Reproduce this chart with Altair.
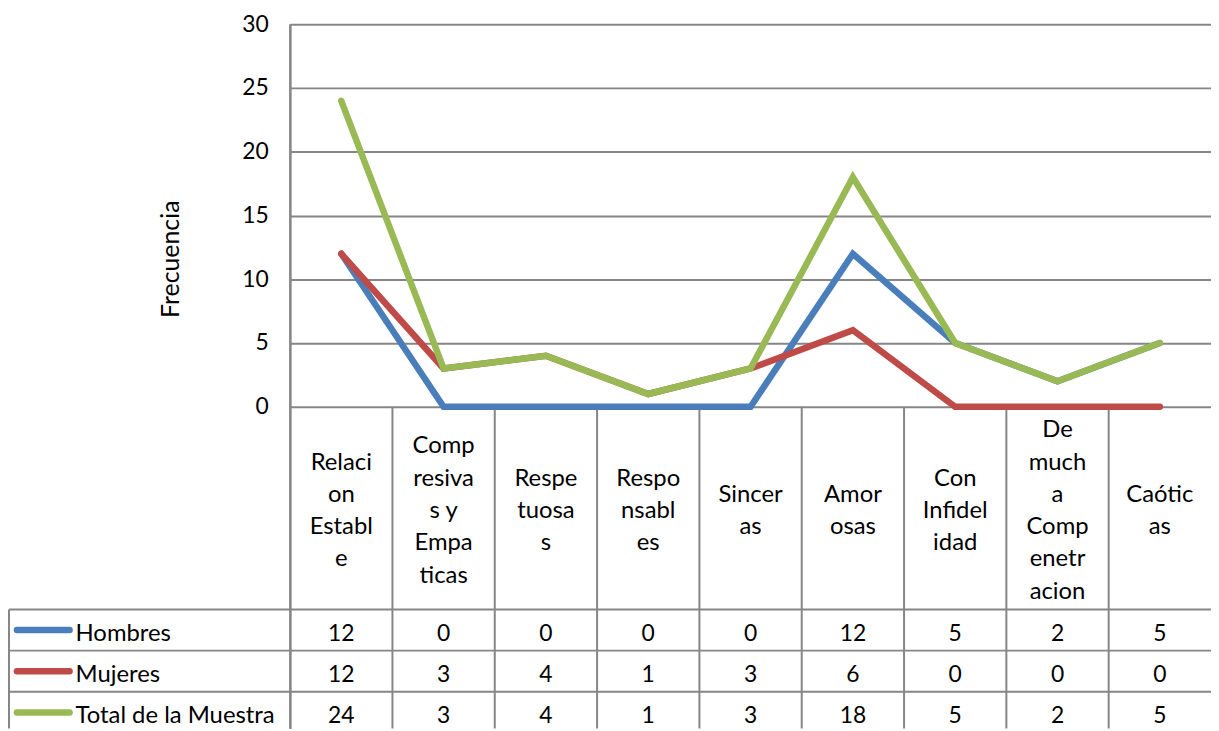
import altair as alt
import pandas as pd

# ---------------- data ----------------
categories = ["Relacion Estable", "Compresivas y Empaticas", "Respetuosas",
              "Responsables", "Sinceras", "Amorosas", "Con Infidelidad",
              "De mucha Compenetracion", "Caóticas"]
category_labels = ["Relaci\non\nEstabl\ne", "Comp\nresiva\ns y\nEmpa\nticas",
                   "Respe\ntuosa\ns", "Respo\nnsabl\nes", "Sincer\nas",
                   "Amor\nosas", "Con\nInfidel\nidad",
                   "De\nmuch\na\nComp\nenetr\nacion", "Caótic\nas"]
series_names = ["Hombres", "Mujeres", "Total de la Muestra"]
hombres = [12, 0, 0, 0, 0, 12, 5, 2, 5]
mujeres = [12, 3, 4, 1, 3, 6, 0, 0, 0]
total = [24, 3, 4, 1, 3, 18, 5, 2, 5]
y_ticks = [0, 5, 10, 15, 20, 25, 30]
series_values = [hombres, mujeres, total]
colors = ["#4A7EBB", "#BE4B48", "#98B954"]

# ---------------- layout ----------------
FONT = "Lato"
GRID = "#868686"
PLOT_W = 927
PLOT_H = 709
N = len(categories)
CAT_W = PLOT_W / N
Y_MAX = 30
AXIS_H = 385
PXU = AXIS_H / Y_MAX
Y_MIN = Y_MAX - PLOT_H / PXU
LABEL_H = 204 / PXU
ROW_H = 41.5 / PXU
LINE_H = 32.5


def xu(px):
    return px / CAT_W


LEG_X0 = xu(-283)
LEG_L0 = xu(-275)
LEG_L1 = xu(-222)
LEG_T = xu(-216)

row_bounds = [-LABEL_H - r * ROW_H for r in range(3)]
row_centers = [b - ROW_H / 2 for b in row_bounds]

xs = alt.Scale(domain=[0, N], nice=False, zero=False)
ys = alt.Scale(domain=[Y_MIN, Y_MAX], nice=False, zero=False)

yaxis = alt.Axis(values=y_ticks, title="Frecuencia",
                 grid=True, gridColor=GRID, gridWidth=2,
                 domain=True, domainColor=GRID, domainWidth=2,
                 ticks=False, labelFont=FONT, labelFontSize=23,
                 labelColor="#000", labelPadding=22,
                 titleFont=FONT, titleFontSize=25,
                 titleFontWeight="normal", titleColor="#000",
                 titleAngle=270, titleX=-120, titleY=236,
                 titleAlign="center", titleBaseline="middle")

X = lambda f: alt.X(f, scale=xs, axis=None)
Y = lambda f: alt.Y(f, scale=ys, axis=yaxis)

# vertical table rules
vr = pd.DataFrame({"x": list(range(0, N)),
                   "y": [Y_MAX] + [0] * (N - 1),
                   "y2": [Y_MIN] * N})
vrules = alt.Chart(vr).mark_rule(color=GRID, strokeWidth=2).encode(
    x=X("x:Q"), y=Y("y:Q"), y2="y2:Q")

hr = pd.DataFrame({"y": row_bounds, "x": [LEG_X0] * 3, "x2": [N] * 3})
hrules = alt.Chart(hr).mark_rule(color=GRID, strokeWidth=2).encode(
    x=X("x:Q"), x2="x2:Q", y=Y("y:Q"))

lb = pd.DataFrame({"x": [LEG_X0], "y": [row_bounds[0]], "y2": [Y_MIN]})
lrule = alt.Chart(lb).mark_rule(color=GRID, strokeWidth=2).encode(
    x=X("x:Q"), y=Y("y:Q"), y2="y2:Q")

# lines
line_layers = []
for name, vals, col in zip(series_names, series_values, colors):
    df = pd.DataFrame({"pos": [i + 0.5 for i in range(N)], "v": vals})
    line_layers.append(
        alt.Chart(df).mark_line(color=col, strokeWidth=6.5, strokeCap="round",
                                strokeJoin="miter").encode(
            x=X("pos:Q"), y=Y("v:Q"))
    )

# category labels: text block vertically centred in the label band
cl = pd.DataFrame({
    "x": [i + 0.5 for i in range(N)],
    "label": category_labels,
    "y": [-LABEL_H / 2 + lab.count("\n") * LINE_H / 2 / PXU
          for lab in category_labels],
})
cat_text = alt.Chart(cl).mark_text(font=FONT, fontSize=24, color="#000",
                                   lineBreak="\n", lineHeight=LINE_H,
                                   baseline="middle", align="center", dy=3).encode(
    x=X("x:Q"), y=Y("y:Q"), text="label:N")

# table values
rows = []
for r, vals in enumerate(series_values):
    for i, v in enumerate(vals):
        rows.append({"x": i + 0.5, "y": row_centers[r], "t": str(v)})
tv = pd.DataFrame(rows)
val_text = alt.Chart(tv).mark_text(font=FONT, fontSize=23, color="#000",
                                   baseline="middle", align="center", dy=4).encode(
    x=X("x:Q"), y=Y("y:Q"), text="t:N")

# legend inside the data table
lg = pd.DataFrame({"name": series_names, "y": row_centers,
                   "x": [LEG_L0] * 3, "x2": [LEG_L1] * 3, "xt": [LEG_T] * 3})
leg_lines = alt.Chart(lg).mark_rule(strokeWidth=6.5, strokeCap="round").encode(
    x=X("x:Q"), x2="x2:Q", y=Y("y:Q"),
    color=alt.Color("name:N", scale=alt.Scale(domain=series_names, range=colors),
                    legend=None))
leg_text = alt.Chart(lg).mark_text(font=FONT, fontSize=24, color="#000",
                                   align="left", baseline="middle", dy=4).encode(
    x=X("xt:Q"), y=Y("y:Q"), text="name:N")

chart = alt.layer(vrules, hrules, lrule, *line_layers, cat_text, val_text,
                  leg_lines, leg_text).properties(
    width=PLOT_W, height=PLOT_H,
    autosize=alt.AutoSizeParams(type="none"),
    padding={"left": 284, "top": 14, "right": 0, "bottom": 0},
    background="white",
).configure_view(stroke=None)

chart.save("out.html", embed_options={"renderer": "svg", "actions": False})
